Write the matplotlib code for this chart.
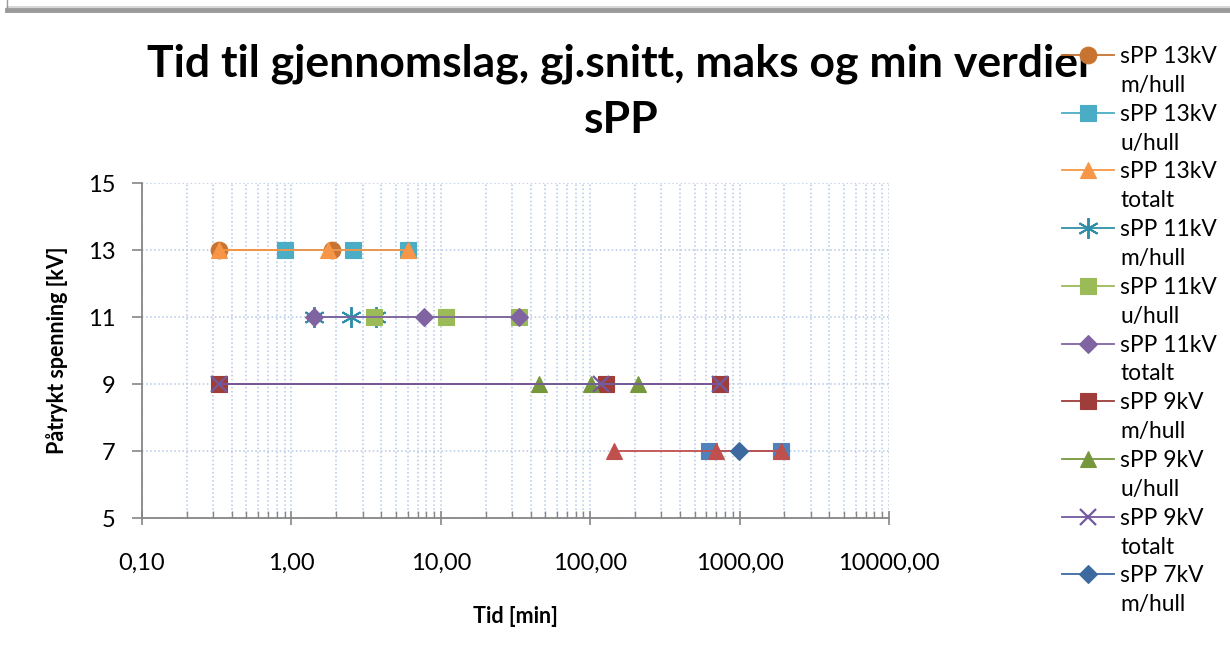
import numpy as np
import matplotlib
matplotlib.use("Agg")
import matplotlib.pyplot as plt
from matplotlib.lines import Line2D
from matplotlib.ticker import FuncFormatter, LogLocator, NullFormatter

plt.rcParams['font.family'] = ['Lato', 'DejaVu Sans']

# times [min], per voltage level and sample group
t_13_mhull = [0.33, 1.86]
t_13_uhull = [0.90, 2.60, 6.0]
t_13_tot = [0.33, 1.76, 6.0]
t_11_mhull = [1.42, 2.49, 3.7]
t_11_uhull = [3.59, 10.8, 33.4]
t_11_tot = [1.42, 7.7, 33.4]
t_9_mhull = [0.33, 127, 740]
t_9_uhull = [45.6, 102, 210]
t_9_tot = [0.33, 119, 740]
t_7_mhull = [996]
t_7_uhull = [627, 1892]
t_7_tot = [145, 692, 1892]

series = [
    # label, voltage, times, marker, colour, in legend
    ("sPP 13kV\nm/hull", 13, t_13_mhull, 'o', '#C8732F', True),
    ("sPP 13kV\nu/hull", 13, t_13_uhull, 's', '#4BACC6', True),
    ("sPP 13kV\ntotalt", 13, t_13_tot, '^', '#F79646', True),
    ("sPP 11kV\nm/hull", 11, t_11_mhull, (6, 2, 0), '#2F8FA8', True),
    ("sPP 11kV\nu/hull", 11, t_11_uhull, 's', '#9BBB59', True),
    ("sPP 11kV\ntotalt", 11, t_11_tot, 'D', '#8064A2', True),
    ("sPP 9kV\nm/hull", 9, t_9_mhull, 's', '#9E3D3A', True),
    ("sPP 9kV\nu/hull", 9, t_9_uhull, '^', '#77973D', True),
    ("sPP 9kV\ntotalt", 9, t_9_tot, 'x', '#7259A0', True),
    ("sPP 7kV\nm/hull", 7, t_7_mhull, 'D', '#3C6A9E', True),
    ("sPP 7kV\nu/hull", 7, t_7_uhull, 's', '#4F81BD', False),
    ("sPP 7kV\ntotalt", 7, t_7_tot, '^', '#C0504D', False),
]

fig = plt.figure(figsize=(12.3, 6.52), dpi=100)
ax = fig.add_axes([0.1154, 0.2055, 0.6073, 0.5138])

handles = []
labels = []
for i, (lab, kv, t, mk, col, show) in enumerate(series):
    ms = 12
    mew = 0.8
    if mk == 'D':
        ms = 9.5
    elif mk == 'x':
        ms = 11
        mew = 1.6
    elif mk == (6, 2, 0):
        ms = 15
        mew = 1.4
    z = 3 + i
    if lab.startswith("sPP 7kV\nm"):
        z = 20
    ln, = ax.plot(t, [kv] * len(t), color=col, marker=mk, markersize=ms,
                  markeredgecolor=col, markeredgewidth=mew, lw=1.3, zorder=z)
    if show:
        first, second = lab.split("\n")
        handles.append(ln)
        labels.append(first)
        handles.append(Line2D([], [], linestyle='none'))
        labels.append(second)

ax.set_xscale('log')
ax.set_xlim(0.1, 10000)
ax.set_ylim(5, 15)
ax.set_yticks([5, 7, 9, 11, 13, 15])
ax.xaxis.set_major_locator(LogLocator(base=10, numticks=10))
ax.xaxis.set_minor_locator(LogLocator(base=10, subs=range(2, 10), numticks=20))
ax.xaxis.set_major_formatter(FuncFormatter(lambda v, p: f"{v:.2f}".replace('.', ',')))
ax.xaxis.set_minor_formatter(NullFormatter())

grid_col = '#B3C8E6'
ax.grid(True, which='major', axis='both', color=grid_col, linestyle=':', lw=1.1)
ax.grid(True, which='minor', axis='x', color=grid_col, linestyle=':', lw=1.1)
ax.set_axisbelow(True)

for s in ['top', 'right']:
    ax.spines[s].set_visible(False)
for s in ['left', 'bottom']:
    ax.spines[s].set_color('#868686')
    ax.spines[s].set_linewidth(1.3)

ax.tick_params(axis='x', which='major', direction='inout', length=10, width=1.2,
               color='#868686', pad=20, labelsize=17)
ax.tick_params(axis='x', which='minor', direction='in', length=5, width=1.0, color='#868686')
ax.tick_params(axis='y', which='major', direction='out', length=7, width=1.2,
               color='#868686', pad=12, labelsize=17)

ax.set_xlabel("Tid [min]", fontsize=15.5, fontweight='bold', labelpad=23)
ax.set_ylabel("Påtrykt spenning [kV]", fontsize=15.5, fontweight='bold', labelpad=14)

fig.text(0.505, 1 - 43 / 652, "Tid til gjennomslag, gj.snitt, maks og min verdier\nsPP",
         ha='center', va='top', fontsize=32, fontweight='bold', linespacing=1.5)

fig.legend(handles, labels, loc='upper left', bbox_to_anchor=(1062 / 1230, 1 - 46 / 652),
           frameon=False, fontsize=16.4, handlelength=2.3, handletextpad=0.25,
           labelspacing=0.345, borderpad=0, borderaxespad=0)

# window border at the top
fig.add_artist(Line2D([7 / 1230, 1], [1 - 10 / 652] * 2, transform=fig.transFigure,
                      color='#9A9A9A', lw=3.5))
fig.add_artist(Line2D([7 / 1230, 1], [1 - 7 / 652] * 2, transform=fig.transFigure,
                      color='#D0D0D0', lw=1.2))
fig.add_artist(Line2D([7 / 1230] * 2, [1, 1 - 9 / 652], transform=fig.transFigure,
                      color='#9A9A9A', lw=1))

fig.savefig("out.png", dpi=100)
